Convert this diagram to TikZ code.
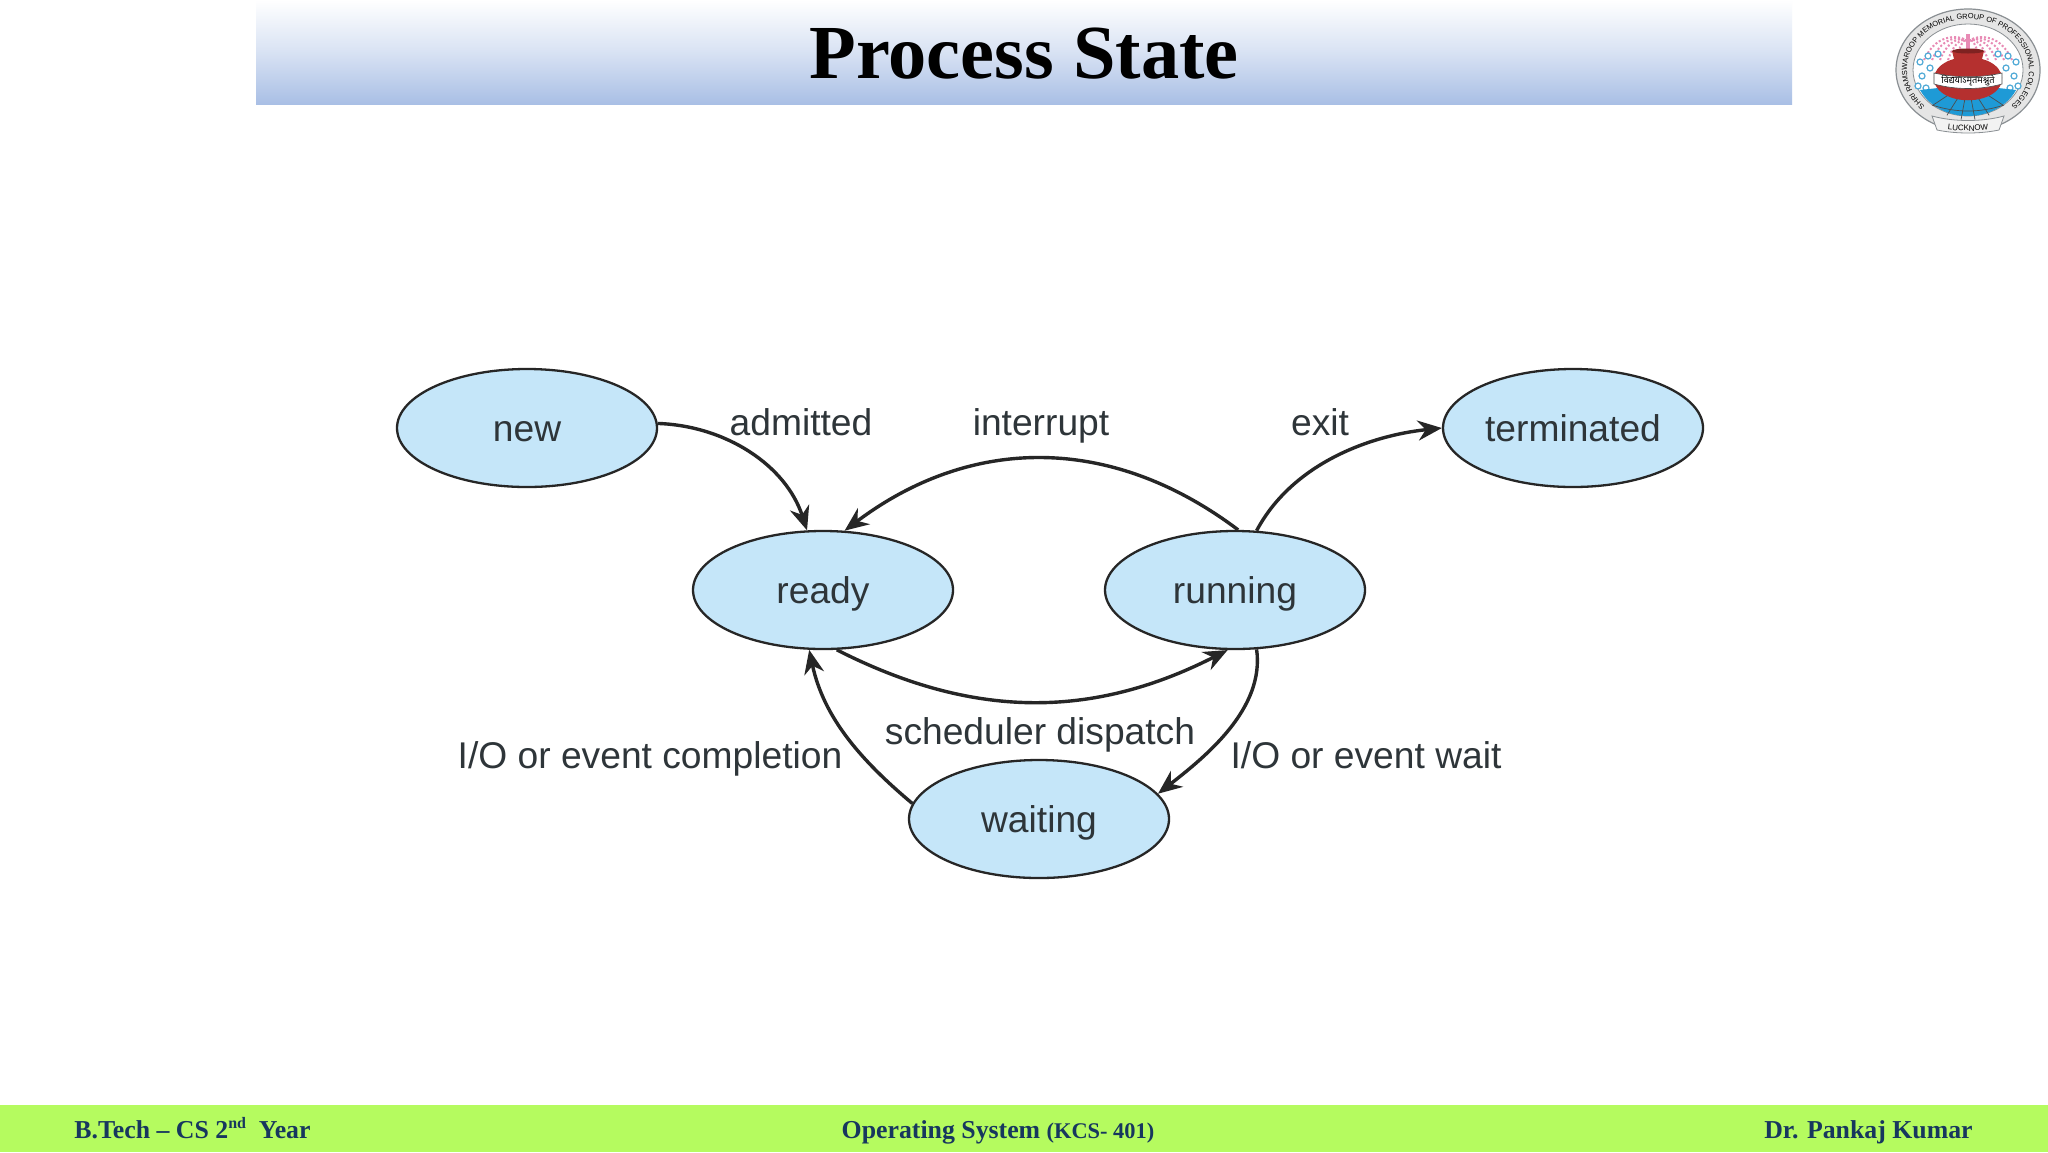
\documentclass[tikz,border=0pt]{standalone}
\usepackage{fontspec}
\setmainfont{Liberation Serif}
\newfontfamily\lsans{Liberation Sans}
\newfontfamily\devfont[Script=Devanagari]{Noto Sans}
\usetikzlibrary{shapes.geometric,arrows.meta,decorations.text}
\definecolor{bandblue}{HTML}{A9BFE5}
\definecolor{footgreen}{HTML}{B5FB5F}
\definecolor{footink}{HTML}{17375E}
\definecolor{stateblue}{HTML}{C5E6F9}
\definecolor{ink}{HTML}{2E3539}
\definecolor{potred}{HTML}{B5302F}
\definecolor{tileblue}{HTML}{1E9AD6}
\definecolor{fountain}{HTML}{E88BB5}
\definecolor{dropblue}{HTML}{4FA9D6}
\definecolor{ringgrey}{HTML}{8A8F93}
\tikzset{
  state/.style={ellipse,draw=black!85,line width=1.15pt,fill=stateblue,minimum width=130pt,minimum height=59pt,inner sep=0pt,text=ink,text height=15pt,text depth=2pt,font=\lsans\fontsize{18.6}{20}\selectfont},
  edgelabel/.style={text=ink,inner sep=0pt,text height=15pt,text depth=2pt,font=\lsans\fontsize{18.6}{20}\selectfont},
  flow/.style={line width=1.7pt,draw=black!85,-{Stealth[length=12pt,width=10pt]}},
  foot/.style={text=footink,inner sep=0pt,text height=11pt,text depth=2.4pt,font=\bfseries\fontsize{12.9}{15}\selectfont},
  dropmark/.style={draw=dropblue,line width=.6pt,fill=white}
}
\begin{document}
\begin{tikzpicture}[x=0.5pt,y=-0.5pt]
\useasboundingbox (0,0) rectangle (2048,1152);
\fill[white] (0,0) rectangle (2048,1152);
% header band
\shade[top color=white,bottom color=bandblue,middle color=bandblue!45] (256,0) rectangle (1792,104);
\node[inner sep=0pt,font=\bfseries\fontsize{38.2}{42}\selectfont] (title) at (1024,54) {Process State};
% footer
\fill[footgreen] (0,1104.5) rectangle (2048,1152);
\node[foot,anchor=west] (f1) at (74,1130) {B.Tech – CS 2\raisebox{.4em}{\fontsize{8}{9}\selectfont nd}\ \ Year};
\node[foot] (f2) at (998,1130) {Operating System {\fontsize{11.2}{13}\selectfont (KCS- 401)}};
\node[foot,anchor=east] (f3) at (1973,1130) {Dr. Pankaj Kumar};
% states
\node[state] (new) at (527,428) {new};
\node[state] (ready) at (823,590) {ready};
\node[state] (running) at (1235,590) {running};
\node[state] (terminated) at (1573,428) {terminated};
\node[state] (waiting) at (1039,819) {waiting};
% connectors
\draw[flow] (new.2) to[out=-2,in=108,looseness=.95] (ready.105);
\draw[flow] (running.87) to[out=143,in=37,looseness=1.03] (ready.70);
\draw[flow] (running.70) to[out=62,in=186,looseness=.9] (terminated.180);
\draw[flow] (ready.283) to[out=-27,in=207,looseness=1] (running.263);
\draw[flow] (running.290) to[out=-82,in=38,looseness=.88] (waiting.12);
\draw[flow] (waiting.173) to[out=140,in=-78,looseness=.95] (ready.257);
% labels
\node[edgelabel] (ladm) at (801,422) {admitted};
\node[edgelabel] (lint) at (1041,422) {interrupt};
\node[edgelabel] (lexit) at (1320,422) {exit};
\node[edgelabel] (lsch) at (1040,731) {scheduler dispatch};
\node[edgelabel] (lioc) at (650,755) {I/O or event completion};
\node[edgelabel] (liow) at (1366,755) {I/O or event wait};
% logo
\begin{scope}[shift={(1968,70)},x=0.5pt,y=0.5pt]
  \fill[white!90!black] (0,0) ellipse[x radius=72,y radius=61];
  \draw[ringgrey,line width=.6pt] (0,0) ellipse[x radius=72,y radius=61];
  \fill[white] (0,0) ellipse[x radius=55,y radius=46];
  \draw[ringgrey,line width=.4pt] (0,0) ellipse[x radius=55,y radius=46];
  % fountain
  \foreach \r in {12,20,28,36,44}{
    \draw[fountain,line width=1pt,densely dotted] (-\r,10) .. controls (-\r*.7,\r*.5+18) and (-4,34) .. (0,28);
    \draw[fountain,line width=1pt,densely dotted] (\r,10) .. controls (\r*.7,\r*.5+18) and (4,34) .. (0,28);
  }
  \fill[fountain] (-2,19) rectangle (2,36);
  % droplets
  \foreach \p in {(-48,8),(-40,14),(-46,-6),(-38,2),(-50,-16),(-42,-18),(48,8),(40,14),(46,-6),(38,2),(50,-16),(42,-18),(-30,16),(30,16)}
    \draw[dropmark] \p circle[radius=3];
  % tiles
  \fill[tileblue] (-48,-20) arc[start angle=205,end angle=335,x radius=53,y radius=45] -- (30,-18) -- (-30,-18) -- cycle;
  \foreach \a in {225,245,262,278,295,315}
    \draw[black!70,line width=.35pt] (0,-12) -- (\a:50);
  \draw[black!70,line width=.35pt] (-36,-35) .. controls (-12,-43) and (12,-43) .. (36,-35);
  % pot
  \fill[potred] (-16,19) -- (16,19) -- (14,11) .. controls (33,6) and (41,-10) .. (27,-22) .. controls (14,-33) and (-14,-33) .. (-27,-22) .. controls (-41,-10) and (-33,6) .. (-14,11) -- cycle;
  \fill[potred!70!black] (0,19) ellipse[x radius=16,y radius=2.5];
  \fill[white] (-34,-3) .. controls (-12,-8) and (12,-8) .. (34,-3) -- (34,-14) .. controls (12,-20) and (-12,-20) .. (-34,-14) -- cycle;
  \draw[black!70,line width=.3pt] (-34,-3) .. controls (-12,-8) and (12,-8) .. (34,-3) -- (34,-14) .. controls (12,-20) and (-12,-20) .. (-34,-14) -- cycle;
  \node[inner sep=0pt,font=\devfont\fontsize{4.6}{5}\selectfont] (motto) at (0,-10.5) {विद्ययाऽमृतमश्नुते};
  % ribbon
  \fill[white!95!black,draw=ringgrey,line width=.4pt] (-36,-46) .. controls (-14,-52) and (14,-52) .. (36,-46) -- (31,-60) .. controls (12,-64) and (-12,-64) .. (-31,-60) -- cycle;
  \path[decorate,decoration={text along path,text align=center,text={|\lsans\fontsize{4}{5}\selectfont|LUCKNOW}}] (-30,-58) .. controls (-12,-62) and (12,-62) .. (30,-58);
  \path[decorate,decoration={text along path,text align=center,text={|\lsans\fontsize{3.7}{5}\selectfont|SHRI RAMSWAROOP MEMORIAL GROUP OF PROFESSIONAL COLLEGES}}]
    (0,0) ++(228:61 and 51) arc[start angle=228,end angle=-48,x radius=61,y radius=51];
\end{scope}
\end{tikzpicture}
\end{document}
